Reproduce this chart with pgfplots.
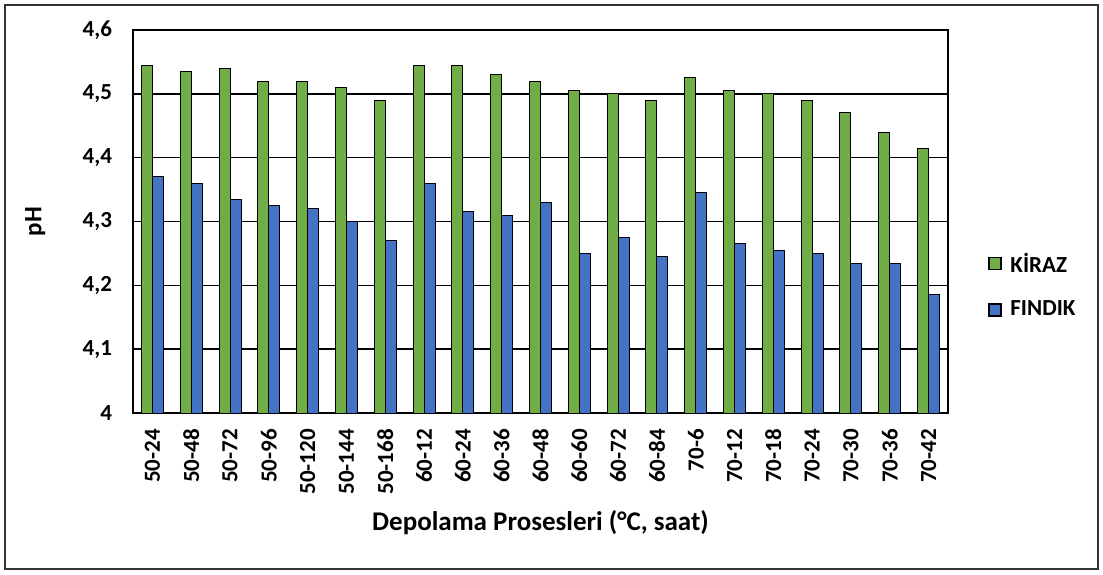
\documentclass[border=0pt]{standalone}
\usepackage{pgfplots}
\pgfplotsset{compat=1.18}
\usepackage{fontspec}
\setmainfont{Carlito}
\definecolor{kiraz}{HTML}{70AD47}
\definecolor{findik}{HTML}{4472C4}

\pgfplotstableread{
x kiraz findik
0  4.545 4.37
1  4.535 4.36
2  4.54  4.335
3  4.52  4.325
4  4.52  4.32
5  4.51  4.30
6  4.49  4.27
7  4.545 4.36
8  4.545 4.315
9  4.53  4.31
10 4.52  4.33
11 4.505 4.25
12 4.5   4.275
13 4.49  4.245
14 4.525 4.345
15 4.505 4.265
16 4.5   4.255
17 4.49  4.25
18 4.47  4.235
19 4.44  4.235
20 4.415 4.185
}\phdata

\begin{document}
\begin{tikzpicture}
  \useasboundingbox (0,0) rectangle (551.5pt,287pt);
  \draw[line width=0.6pt, black!80] (2.5pt,2.5pt) rectangle (549pt,284.5pt);
  \begin{axis}[
    at={(66.5pt,80.5pt)}, anchor=south west,
    scale only axis,
    width=407.5pt, height=191.5pt,
    ybar=0pt, bar width=5.5pt,
    xmin=-0.5, xmax=20.5,
    ymin=4, ymax=4.6,
    ytick={4,4.1,...,4.61},
    xtick=data,
    xticklabels={50-24,50-48,50-72,50-96,50-120,50-144,50-168,60-12,60-24,60-36,60-48,60-60,60-72,60-84,70-6,70-12,70-18,70-24,70-30,70-36,70-42},
    x tick label style={rotate=90, anchor=east, font=\bfseries\fontsize{11.5}{12}\selectfont},
    y tick label style={font=\bfseries\fontsize{11.5}{12}\selectfont},
    xticklabel shift=4.5pt,
    yticklabel shift=7pt,
    /pgf/number format/assume math mode=true,
    /pgf/number format/use comma,
    /pgf/number format/fixed,
    /pgf/number format/precision=1,
    major tick length=0pt,
    xtick pos=bottom, ytick pos=left,
    ymajorgrids,
    grid style={black, line width=0.7pt},
    axis line style={black, line width=0.7pt},
    xlabel={Depolama Prosesleri (°C, saat)},
    ylabel={pH},
    label style={font=\bfseries\fontsize{13.5}{15}\selectfont},
    ylabel style={font=\bfseries\fontsize{12.5}{14}\selectfont},
    xlabel style={at={(axis description cs:0.5,-0.287)}, anchor=center},
    ylabel style={at={(axis description cs:-0.12,0.5)}, anchor=center},
    legend style={at={(axis description cs:1.049,0.332)}, anchor=west,
      draw=none, fill=none, inner sep=0pt,
      font=\bfseries\fontsize{11.5}{12}\selectfont,
      row sep=9pt},
    legend cell align=left,
    legend image code/.code={\draw[#1, draw=black, line width=0.6pt] (0pt,-3pt) rectangle (6pt,3pt); \path (8.5pt,0pt);},
  ]
  \addplot[fill=kiraz, draw=black, line width=0.5pt] table[x=x, y=kiraz] {\phdata};
  \addplot[fill=findik, draw=black, line width=0.5pt] table[x=x, y=findik] {\phdata};
  \legend{K\.{I}RAZ, FINDIK}
  \end{axis}
\end{tikzpicture}
\end{document}
